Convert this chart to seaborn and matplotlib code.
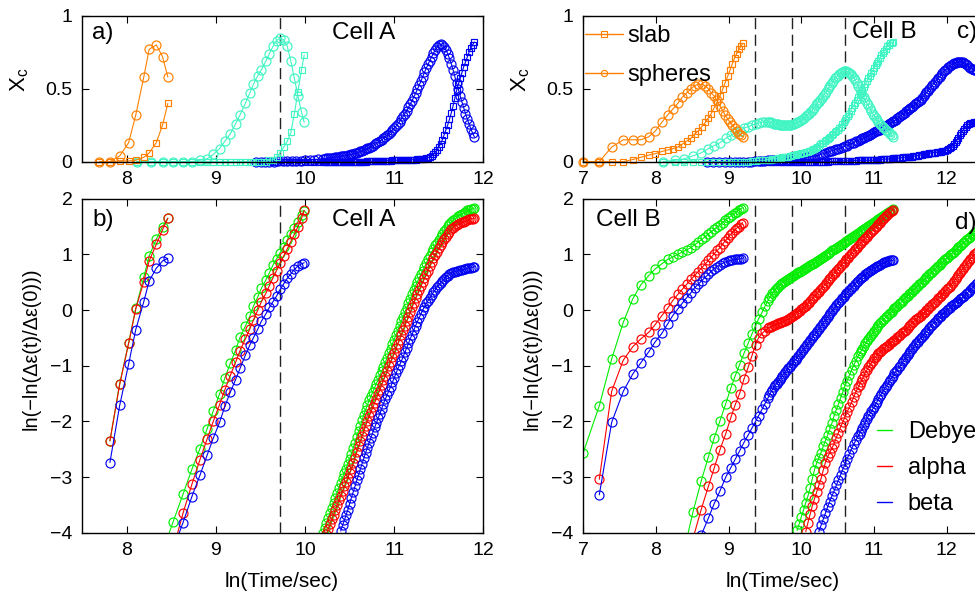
import matplotlib
matplotlib.use("Agg")
import matplotlib.pyplot as plt
import seaborn as sns
import pandas as pd
from matplotlib.lines import Line2D

# ---------------- data ----------------
# Cell A, group 1 (orange / first group)
A1_x = [7.69, 7.81, 7.92, 8.02, 8.10, 8.19, 8.25, 8.33, 8.40, 8.46]
a_orange_sph = [0.0, 0.0, 0.04, 0.13, 0.32, 0.58, 0.77, 0.80, 0.72, 0.58]
a_orange_slab = [0.0, 0.0, 0.005, 0.005, 0.01, 0.03, 0.06, 0.13, 0.25, 0.40]
b1_debye = [-2.35, -1.32, -0.59, 0.03, 0.59, 0.97, 1.27, 1.50, 1.65]
b1_alpha = [-2.35, -1.33, -0.60, 0.02, 0.51, 0.88, 1.18, 1.44, 1.65]
b1_beta = [-2.74, -1.71, -0.97, -0.35, 0.15, 0.52, 0.75, 0.88, 0.93]

# Cell A, group 2 (cyan)
A2_x = [8.11, 8.27, 8.41, 8.52, 8.63, 8.73, 8.82, 8.90, 8.97, 9.04, 9.10, 9.16, 9.22, 9.27, 9.33,
        9.38, 9.42, 9.47, 9.51, 9.56, 9.60, 9.64, 9.68, 9.72, 9.76, 9.80, 9.84, 9.88, 9.92, 9.96, 9.99]
a_cyan_sph = [0, 0, 0, 0, 0, 0, 0.01, 0.02, 0.05, 0.09, 0.14, 0.19, 0.26, 0.32, 0.40,
              0.47, 0.53, 0.59, 0.63, 0.69, 0.74, 0.79, 0.83, 0.845, 0.835, 0.79, 0.69, 0.57, 0.45, 0.34, 0.27]
a_cyan_slab = [0, 0, 0, 0, 0, 0, 0, 0, 0, 0, 0, 0, 0, 0, 0, 0, 0, 0, 0, 0,
               0.01, 0.015, 0.03, 0.06, 0.10, 0.14, 0.20, 0.33, 0.48, 0.63, 0.73]
b2_debye = [-4.30, -3.80, -3.31, -2.86, -2.49, -2.14, -1.81, -1.51, -1.22, -0.96, -0.72, -0.49, -0.29, -0.11, 0.07,
            0.24, 0.39, 0.54, 0.67, 0.81, 0.92, 1.03, 1.14, 1.26, 1.36, 1.47, 1.59, 1.70, 1.78]
b2_alpha = [-4.30, -3.65, -3.13, -2.69, -2.32, -2.00, -1.70, -1.43, -1.18, -0.94, -0.73, -0.52, -0.34, -0.18,
            0.00, 0.15, 0.30, 0.44, 0.58, 0.71, 0.84, 0.97, 1.10, 1.23, 1.36, 1.50, 1.65, 1.79]
b2_beta = [-4.30, -3.82, -3.35, -2.97, -2.61, -2.30, -2.02, -1.73, -1.48, -1.25, -1.05, -0.81, -0.63, -0.50,
           -0.34, -0.20, -0.07, 0.05, 0.15, 0.25, 0.37, 0.47, 0.57, 0.65, 0.73, 0.79, 0.83, 0.85]

# Cell A, group 3 (blue, dense sampling)
A3_x = [9.45, 9.50, 9.55, 9.60, 9.65, 9.70, 9.75, 9.80, 9.85, 9.90, 9.95, 10.00, 10.05, 10.10, 10.15, 10.20,
        10.22, 10.24, 10.26, 10.28, 10.30, 10.32, 10.34, 10.36, 10.38, 10.40,
        10.42, 10.44, 10.46, 10.48, 10.50, 10.52, 10.54, 10.56, 10.58, 10.60,
        10.62, 10.64, 10.66, 10.68, 10.70, 10.72, 10.74, 10.76, 10.78, 10.80,
        10.82, 10.84, 10.86, 10.88, 10.90, 10.92, 10.94, 10.96, 10.98, 11.00,
        11.02, 11.04, 11.06, 11.08, 11.10, 11.12, 11.14, 11.16, 11.18, 11.20,
        11.22, 11.24, 11.26, 11.28, 11.30, 11.32, 11.34, 11.36, 11.38, 11.40,
        11.42, 11.44, 11.46, 11.48, 11.50, 11.52, 11.54, 11.56, 11.58, 11.60,
        11.62, 11.64, 11.66, 11.68, 11.70, 11.72, 11.74, 11.76, 11.78, 11.80,
        11.82, 11.84, 11.86, 11.88, 11.90]
a_blue_sph = [0, 0, 0, 0, 0, 0.002, 0.003, 0.004, 0.005, 0.006, 0.008, 0.010, 0.012, 0.014, 0.016, 0.019,
              0.021, 0.022, 0.024, 0.025, 0.027, 0.028, 0.030, 0.032, 0.034, 0.036,
              0.038, 0.040, 0.042, 0.045, 0.048, 0.050, 0.054, 0.057, 0.061, 0.065,
              0.070, 0.074, 0.080, 0.085, 0.091, 0.097, 0.104, 0.110, 0.118, 0.125,
              0.132, 0.140, 0.150, 0.160, 0.170, 0.180, 0.192, 0.205, 0.218, 0.230,
              0.243, 0.258, 0.275, 0.292, 0.310, 0.330, 0.350, 0.372, 0.395, 0.418,
              0.442, 0.468, 0.495, 0.523, 0.552, 0.582, 0.612, 0.640, 0.667, 0.693,
              0.718, 0.742, 0.765, 0.784, 0.797, 0.803, 0.800, 0.788, 0.767, 0.740,
              0.708, 0.672, 0.630, 0.585, 0.538, 0.495, 0.452, 0.410, 0.370, 0.330,
              0.293, 0.258, 0.225, 0.195, 0.170]
a_blue_slab = [0, 0, 0, 0, 0, 0, 0, 0, 0, 0, 0, 0, 0, 0, 0, 0,
               0, 0, 0, 0, 0, 0, 0, 0, 0, 0,
               0, 0, 0, 0, 0, 0, 0, 0, 0, 0,
               0, 0, 0, 0, 0.002, 0.002, 0.003, 0.003, 0.004, 0.004,
               0.005, 0.005, 0.006, 0.006, 0.007, 0.007, 0.008, 0.008, 0.009, 0.009,
               0.010, 0.010, 0.010, 0.011, 0.011, 0.012, 0.012, 0.013, 0.013, 0.014,
               0.014, 0.015, 0.016, 0.017, 0.018, 0.019, 0.021, 0.024, 0.028, 0.033,
               0.040, 0.050, 0.065, 0.080, 0.100, 0.123, 0.150, 0.183, 0.217, 0.250,
               0.290, 0.333, 0.380, 0.433, 0.487, 0.530, 0.570, 0.610, 0.650, 0.683,
               0.717, 0.750, 0.777, 0.800, 0.820]
b3_debye = [-4.00,
            -3.91, -3.82, -3.73, -3.64, -3.55, -3.46, -3.37, -3.28, -3.19, -3.10,
            -3.01, -2.93, -2.85, -2.76, -2.67, -2.58, -2.48, -2.38, -2.28, -2.18,
            -2.08, -1.98, -1.88, -1.79, -1.70, -1.62, -1.55, -1.47, -1.40, -1.32,
            -1.25, -1.17, -1.10, -1.02, -0.94, -0.86, -0.78, -0.70, -0.61, -0.53,
            -0.45, -0.37, -0.28, -0.20, -0.12, -0.04, 0.04, 0.12, 0.20, 0.28,
            0.36, 0.44, 0.51, 0.57, 0.64, 0.71, 0.77, 0.84, 0.91, 0.97,
            1.04, 1.10, 1.16, 1.21, 1.26, 1.32, 1.37, 1.42, 1.46, 1.51,
            1.54, 1.58, 1.61, 1.64, 1.66, 1.69, 1.71, 1.73, 1.75, 1.77,
            1.79, 1.80, 1.81, 1.82, 1.83]
b3_alpha = [-4.02, -3.93, -3.85, -3.76, -3.68, -3.59, -3.51, -3.42, -3.34, -3.25,
            -3.17, -3.09, -3.01, -2.93, -2.85, -2.75, -2.65, -2.55, -2.45, -2.35,
            -2.26, -2.17, -2.08, -1.99, -1.91, -1.83, -1.75, -1.67, -1.59, -1.51,
            -1.43, -1.34, -1.26, -1.18, -1.10, -1.01, -0.93, -0.85, -0.77, -0.69,
            -0.61, -0.53, -0.44, -0.36, -0.28, -0.20, -0.12, -0.04, 0.05, 0.13,
            0.21, 0.28, 0.36, 0.43, 0.50, 0.57, 0.64, 0.71, 0.79, 0.86,
            0.93, 0.99, 1.05, 1.11, 1.17, 1.22, 1.27, 1.32, 1.37, 1.41,
            1.45, 1.48, 1.51, 1.53, 1.55, 1.56, 1.58, 1.59, 1.60, 1.61,
            1.63, 1.64, 1.64, 1.65]
b3_beta = [-3.97, -3.87, -3.78, -3.68, -3.59, -3.48, -3.37, -3.27, -3.17, -3.06,
           -2.96, -2.86, -2.76, -2.66, -2.56, -2.47, -2.38, -2.29, -2.20, -2.11,
           -2.03, -1.94, -1.86, -1.77, -1.68, -1.60, -1.53, -1.45, -1.38, -1.30,
           -1.22, -1.14, -1.06, -0.99, -0.92, -0.84, -0.76, -0.68, -0.60, -0.52,
           -0.44, -0.36, -0.28, -0.21, -0.14, -0.07, 0.00, 0.06, 0.12, 0.17,
           0.22, 0.27, 0.32, 0.36, 0.41, 0.45, 0.49, 0.53, 0.56, 0.59,
           0.62, 0.64, 0.66, 0.68, 0.69, 0.70, 0.71, 0.72, 0.72, 0.73,
           0.74, 0.75, 0.76, 0.76, 0.77, 0.78]

# Cell B, group 1 (orange)
B1_x = [7.00, 7.22, 7.39, 7.55, 7.68, 7.79, 7.90, 7.99, 8.08, 8.16, 8.23, 8.30, 8.36, 8.42, 8.48, 8.53, 8.58,
        8.63, 8.68, 8.72, 8.76, 8.80, 8.84, 8.88, 8.92, 8.95, 8.99, 9.02, 9.05, 9.08, 9.11, 9.14, 9.17, 9.19]
c_orange_sph = [0.00, 0.00, 0.10, 0.15, 0.15, 0.15, 0.17, 0.21, 0.27, 0.32, 0.36, 0.40, 0.44, 0.47, 0.50, 0.52,
                0.53, 0.53, 0.52, 0.50, 0.47, 0.45, 0.42, 0.38, 0.35, 0.32, 0.29, 0.27, 0.25, 0.23, 0.21, 0.19,
                0.18, 0.17]
c_orange_slab = [0.00, 0.00, 0.00, 0.00, 0.015, 0.03, 0.045, 0.055, 0.07, 0.08, 0.09, 0.10, 0.12, 0.14, 0.16,
                 0.19, 0.21, 0.24, 0.27, 0.30, 0.33, 0.37, 0.41, 0.45, 0.50, 0.54, 0.59, 0.63, 0.67, 0.71, 0.74,
                 0.77, 0.79, 0.81]
d1_debye = [-2.56, -1.72, -0.88, -0.22, 0.20, 0.45, 0.62, 0.74, 0.83, 0.91, 0.95, 1.00, 1.04, 1.08, 1.12, 1.17,
            1.22, 1.27, 1.32, 1.37, 1.41, 1.45, 1.49, 1.53, 1.57, 1.61, 1.65, 1.68, 1.71, 1.74, 1.77, 1.80,
            1.82, 1.84]
d1_alpha = [-3.04, -1.46, -0.90, -0.66, -0.52, -0.40, -0.26, -0.10, 0.03, 0.17, 0.28, 0.37, 0.46, 0.55, 0.62,
            0.69, 0.76, 0.83, 0.89, 0.95, 1.01, 1.07, 1.12, 1.19, 1.24, 1.30, 1.35, 1.39, 1.43, 1.47, 1.50,
            1.54, 1.57]
d1_beta = [-3.32, -2.02, -1.46, -1.15, -0.95, -0.75, -0.57, -0.42, -0.25, -0.10, 0.02, 0.12, 0.22, 0.31, 0.40,
           0.46, 0.53, 0.59, 0.64, 0.70, 0.74, 0.78, 0.81, 0.84, 0.86, 0.88, 0.89, 0.90, 0.91, 0.91, 0.92,
           0.92, 0.93]

# Cell B, group 2 (cyan)
B2_x = [8.10, 8.26, 8.39, 8.51, 8.62, 8.72, 8.80, 8.88, 8.96, 9.03, 9.09, 9.15, 9.21, 9.27, 9.32, 9.37, 9.41,
        9.46, 9.50, 9.54,
        9.56, 9.58, 9.60, 9.62, 9.64, 9.66, 9.68, 9.70, 9.72, 9.74,
        9.76, 9.78, 9.80, 9.82, 9.84, 9.86, 9.88, 9.90, 9.92, 9.94,
        9.96, 9.98, 10.00, 10.02, 10.04, 10.06, 10.08, 10.10, 10.12, 10.14,
        10.16, 10.18, 10.20, 10.22, 10.24, 10.26, 10.28, 10.30, 10.32, 10.34,
        10.36, 10.38, 10.40, 10.42, 10.44, 10.46, 10.48, 10.50, 10.52, 10.54,
        10.56, 10.58, 10.60, 10.62, 10.64, 10.66, 10.68, 10.70, 10.72, 10.74,
        10.76, 10.78, 10.80, 10.82, 10.84, 10.86, 10.88, 10.90, 10.92, 10.94,
        10.96, 10.98, 11.00, 11.02, 11.04, 11.06, 11.08, 11.10, 11.12, 11.14,
        11.16, 11.18, 11.20, 11.22, 11.24, 11.26]
c_cyan_sph = [0.00, 0.01, 0.02, 0.04, 0.06, 0.09, 0.11, 0.13, 0.16, 0.18, 0.20, 0.21, 0.23, 0.24, 0.25, 0.26,
              0.265, 0.27, 0.27, 0.27,
              0.27, 0.27, 0.265, 0.26, 0.26, 0.26, 0.255, 0.25, 0.25, 0.25,
              0.25, 0.25, 0.25, 0.25, 0.25, 0.25, 0.255, 0.26, 0.265, 0.27,
              0.275, 0.28, 0.285, 0.29, 0.30, 0.31, 0.32, 0.33, 0.34, 0.35,
              0.36, 0.37, 0.385, 0.40, 0.41, 0.42, 0.435, 0.45, 0.465, 0.48,
              0.495, 0.51, 0.525, 0.54, 0.555, 0.57, 0.58, 0.59, 0.60, 0.61,
              0.615, 0.62, 0.62, 0.62, 0.615, 0.61, 0.60, 0.59, 0.575, 0.56,
              0.54, 0.52, 0.50, 0.48, 0.46, 0.44, 0.42, 0.40, 0.385, 0.37,
              0.35, 0.33, 0.315, 0.30, 0.285, 0.27, 0.26, 0.25, 0.24, 0.23,
              0.22, 0.21, 0.20, 0.19, 0.18, 0.17]
c_cyan_slab = [0, 0, 0, 0, 0, 0, 0, 0, 0, 0, 0, 0, 0, 0, 0.005, 0.005, 0.01, 0.01, 0.01, 0.015,
               0.015, 0.015, 0.018, 0.02, 0.02, 0.02, 0.023, 0.025, 0.028, 0.03,
               0.03, 0.03, 0.033, 0.035, 0.038, 0.04, 0.043, 0.045, 0.048, 0.05,
               0.053, 0.055, 0.058, 0.06, 0.063, 0.065, 0.068, 0.07, 0.075, 0.08,
               0.085, 0.09, 0.095, 0.10, 0.11, 0.12, 0.125, 0.13, 0.14, 0.15,
               0.155, 0.16, 0.17, 0.18, 0.19, 0.20, 0.21, 0.22, 0.23, 0.24,
               0.255, 0.27, 0.285, 0.30, 0.315, 0.33, 0.35, 0.37, 0.385, 0.40,
               0.42, 0.44, 0.455, 0.47, 0.49, 0.51, 0.53, 0.55, 0.57, 0.59,
               0.605, 0.62, 0.64, 0.66, 0.675, 0.69, 0.71, 0.73, 0.745, 0.76,
               0.775, 0.79, 0.80, 0.81, 0.815, 0.82]
d2_debye = [-4.30, -3.62, -3.08, -2.64, -2.30, -1.99, -1.68, -1.40, -1.18, -0.98, -0.78, -0.59, -0.43, -0.28,
            -0.16, -0.04, 0.07, 0.17,
            0.22, 0.26, 0.30, 0.33, 0.36, 0.39, 0.42, 0.45, 0.47, 0.49,
            0.51, 0.53, 0.545, 0.56, 0.575, 0.59, 0.61, 0.63, 0.645, 0.66,
            0.675, 0.69, 0.705, 0.72, 0.74, 0.76, 0.775, 0.79, 0.805, 0.82,
            0.835, 0.85, 0.865, 0.88, 0.90, 0.92, 0.94, 0.96, 0.975, 0.99,
            1.01, 1.03, 1.05, 1.07, 1.085, 1.10, 1.12, 1.14, 1.155, 1.17,
            1.19, 1.21, 1.225, 1.24, 1.26, 1.28, 1.295, 1.31, 1.33, 1.35,
            1.37, 1.39, 1.405, 1.42, 1.44, 1.46, 1.48, 1.50, 1.515, 1.53,
            1.55, 1.57, 1.585, 1.60, 1.62, 1.64, 1.655, 1.67, 1.69, 1.71,
            1.725, 1.74, 1.76, 1.78, 1.795, 1.81]
d2_alpha = [-4.10, -3.59, -3.17, -2.84, -2.51, -2.22, -1.93, -1.70, -1.50, -1.24, -1.02, -0.82, -0.62, -0.50,
            -0.42, -0.37, -0.33,
            -0.31, -0.30, -0.285, -0.27, -0.26, -0.25, -0.24, -0.23, -0.22, -0.21,
            -0.20, -0.19, -0.175, -0.16, -0.145, -0.13, -0.11, -0.09, -0.07, -0.05,
            -0.03, -0.01, 0.01, 0.03, 0.055, 0.08, 0.105, 0.13, 0.16, 0.19,
            0.22, 0.25, 0.275, 0.30, 0.33, 0.36, 0.39, 0.42, 0.45, 0.48,
            0.515, 0.55, 0.58, 0.61, 0.64, 0.67, 0.70, 0.73, 0.76, 0.79,
            0.82, 0.85, 0.88, 0.91, 0.94, 0.97, 1.00, 1.03, 1.06, 1.09,
            1.12, 1.15, 1.18, 1.21, 1.235, 1.26, 1.29, 1.32, 1.35, 1.38,
            1.405, 1.43, 1.46, 1.49, 1.515, 1.54, 1.57, 1.60, 1.63, 1.66,
            1.685, 1.71, 1.735, 1.76, 1.78, 1.80]
d2_beta = [-4.05, -3.74, -3.48, -3.25, -3.00, -2.83, -2.68, -2.53, -2.38, -2.24, -2.12, -2.00, -1.90, -1.78,
           -1.68, -1.58,
           -1.53, -1.48, -1.43, -1.39, -1.355, -1.32, -1.285, -1.25, -1.215, -1.18,
           -1.145, -1.11, -1.08, -1.05, -1.02, -0.99, -0.955, -0.92, -0.89, -0.86,
           -0.825, -0.79, -0.755, -0.72, -0.685, -0.65, -0.615, -0.58, -0.545, -0.51,
           -0.475, -0.44, -0.405, -0.37, -0.335, -0.30, -0.265, -0.23, -0.195, -0.16,
           -0.125, -0.09, -0.055, -0.02, 0.015, 0.05, 0.085, 0.12, 0.15, 0.18,
           0.21, 0.24, 0.27, 0.30, 0.33, 0.36, 0.385, 0.41, 0.44, 0.47,
           0.50, 0.53, 0.555, 0.58, 0.60, 0.62, 0.64, 0.66, 0.68, 0.70,
           0.72, 0.74, 0.755, 0.77, 0.785, 0.80, 0.815, 0.83, 0.845, 0.86,
           0.87, 0.88, 0.885, 0.89, 0.89, 0.89]

# Cell B, group 3 (blue, dense sampling)
B3_x = [8.70, 8.79, 8.87, 8.95, 9.02, 9.08, 9.14, 9.20, 9.26, 9.31, 9.36, 9.41, 9.45, 9.49, 9.54, 9.58, 9.61,
        9.65, 9.69, 9.72, 9.75, 9.79, 9.82, 9.85, 9.88, 9.91,
        9.94, 9.97, 10.00, 10.03, 10.06, 10.09, 10.12, 10.15, 10.18, 10.21, 10.24, 10.27, 10.30, 10.33,
        10.36, 10.39, 10.42, 10.45, 10.48, 10.51, 10.54, 10.57, 10.60, 10.63, 10.66, 10.69, 10.72, 10.75, 10.78,
        10.80, 10.82, 10.84, 10.86, 10.88, 10.90, 10.92, 10.94, 10.96, 10.98,
        11.00, 11.02, 11.04, 11.06, 11.08, 11.10, 11.12, 11.14, 11.16, 11.18,
        11.20, 11.22, 11.24, 11.26, 11.28, 11.30, 11.32, 11.34, 11.36, 11.38,
        11.40, 11.42, 11.44, 11.46, 11.48, 11.50, 11.52, 11.54, 11.56, 11.58,
        11.60, 11.62, 11.64, 11.66, 11.68, 11.70, 11.72, 11.74, 11.76, 11.78,
        11.80, 11.82, 11.84, 11.86, 11.88, 11.90, 11.92, 11.94, 11.96, 11.98,
        12.00, 12.02, 12.04, 12.06, 12.08, 12.10, 12.12, 12.14, 12.16, 12.18,
        12.20, 12.22, 12.24, 12.26, 12.28, 12.30, 12.32, 12.34, 12.36, 12.38,
        12.40, 12.42]
c_blue_sph = [0, 0, 0, 0, 0, 0, 0, 0, 0, 0, 0.005, 0.005, 0.005, 0.005, 0.01, 0.01, 0.01, 0.01, 0.01, 0.01,
              0.015, 0.015, 0.015, 0.015, 0.02, 0.02,
              0.02, 0.02, 0.025, 0.025, 0.03, 0.03, 0.035, 0.035, 0.04, 0.04, 0.045, 0.05, 0.055, 0.06, 0.065,
              0.07, 0.075, 0.08, 0.085, 0.09, 0.095, 0.10, 0.105, 0.11, 0.12, 0.125, 0.13, 0.14, 0.145,
              0.150, 0.155, 0.160, 0.165, 0.170, 0.174, 0.178, 0.183, 0.190, 0.197,
              0.203, 0.208, 0.212, 0.216, 0.220, 0.228, 0.236, 0.242, 0.246, 0.250,
              0.258, 0.266, 0.272, 0.276, 0.280, 0.288, 0.296, 0.304, 0.312, 0.320,
              0.328, 0.336, 0.344, 0.352, 0.360, 0.368, 0.376, 0.384, 0.392, 0.400,
              0.408, 0.416, 0.426, 0.438, 0.450, 0.462, 0.474, 0.486, 0.498, 0.510,
              0.522, 0.534, 0.546, 0.558, 0.570, 0.582, 0.594, 0.606, 0.618, 0.630,
              0.638, 0.646, 0.654, 0.662, 0.670, 0.674, 0.678, 0.681, 0.683, 0.685,
              0.684, 0.682, 0.677, 0.670, 0.660, 0.652, 0.644, 0.638, 0.634, 0.630,
              0.626, 0.622]
c_blue_slab = [0, 0, 0, 0, 0, 0, 0, 0, 0, 0, 0, 0, 0, 0, 0, 0, 0, 0, 0, 0, 0, 0, 0, 0, 0, 0,
               0, 0, 0, 0, 0, 0, 0, 0, 0, 0, 0, 0, 0, 0, 0, 0.002, 0.002, 0.003, 0.003, 0.004, 0.004, 0.005,
               0.005, 0.006, 0.006, 0.007, 0.008, 0.008, 0.009,
               0.010, 0.010, 0.010, 0.010, 0.010, 0.010, 0.010, 0.010, 0.010, 0.010,
               0.011, 0.012, 0.013, 0.014, 0.015, 0.016, 0.017, 0.017, 0.018, 0.018,
               0.019, 0.020, 0.021, 0.022, 0.022, 0.023, 0.024, 0.025, 0.026, 0.028,
               0.029, 0.030, 0.031, 0.032, 0.033, 0.034, 0.035, 0.036, 0.038, 0.040,
               0.042, 0.044, 0.046, 0.048, 0.050, 0.052, 0.054, 0.056, 0.058, 0.060,
               0.061, 0.062, 0.063, 0.064, 0.066, 0.067, 0.068, 0.070, 0.072, 0.075,
               0.080, 0.086, 0.094, 0.102, 0.110, 0.122, 0.134, 0.148, 0.164, 0.180,
               0.196, 0.212, 0.226, 0.238, 0.250, 0.256, 0.262, 0.266, 0.268, 0.270,
               0.272, 0.274]
d3_debye = [-3.96, -3.84, -3.71, -3.59, -3.46, -3.34, -3.20, -3.03, -2.87, -2.75, -2.66, -2.56, -2.45, -2.35,
            -2.25, -2.14, -2.03, -1.90, -1.79, -1.69, -1.58, -1.47, -1.36, -1.27, -1.17, -1.08, -0.99, -0.91,
            -0.83,
            -0.78, -0.74, -0.70, -0.65, -0.60, -0.56, -0.52, -0.48, -0.45, -0.41,
            -0.37, -0.34, -0.30, -0.27, -0.24, -0.21, -0.18, -0.16, -0.13, -0.10,
            -0.08, -0.05, -0.03, 0.00, 0.03, 0.05, 0.08, 0.10, 0.13, 0.15,
            0.18, 0.21, 0.23, 0.26, 0.28, 0.30, 0.33, 0.36, 0.38, 0.41,
            0.43, 0.46, 0.48, 0.51, 0.54, 0.56, 0.59, 0.61, 0.64, 0.66,
            0.69, 0.72, 0.74, 0.77, 0.79, 0.81, 0.84, 0.86, 0.89, 0.91,
            0.93, 0.96, 0.98, 1.01, 1.03, 1.05, 1.08, 1.10, 1.13, 1.15,
            1.17, 1.20, 1.22, 1.25, 1.27, 1.29, 1.32, 1.34, 1.36, 1.38,
            1.40, 1.42]
d3_alpha = [-3.98, -3.82, -3.67, -3.52, -3.39, -3.27, -3.15, -3.03, -2.88, -2.74, -2.64, -2.56, -2.48, -2.40,
            -2.29, -2.20, -2.10, -2.01, -1.92, -1.83, -1.74, -1.66, -1.56, -1.47, -1.39,
            -1.34, -1.29, -1.23, -1.18, -1.12, -1.08, -1.03, -0.99, -0.95, -0.91,
            -0.87, -0.84, -0.81, -0.78, -0.75, -0.73, -0.70, -0.68, -0.66, -0.64,
            -0.62, -0.60, -0.58, -0.56, -0.54, -0.52, -0.49, -0.47, -0.44, -0.42,
            -0.40, -0.37, -0.35, -0.32, -0.29, -0.26, -0.23, -0.21, -0.18, -0.16,
            -0.14, -0.12, -0.10, -0.08, -0.06, -0.03, 0.00, 0.02, 0.05, 0.08,
            0.10, 0.13, 0.15, 0.18, 0.21, 0.23, 0.26, 0.28, 0.31, 0.34,
            0.37, 0.40, 0.42, 0.45, 0.49, 0.52, 0.56, 0.60, 0.63, 0.67,
            0.71, 0.74, 0.78, 0.81, 0.85, 0.88, 0.91, 0.94, 0.97, 1.00,
            1.02, 1.04]
d3_beta = [-3.98, -3.87, -3.76, -3.65, -3.54, -3.44, -3.34, -3.25, -3.15, -3.05, -2.96, -2.86, -2.77, -2.67,
           -2.58, -2.49, -2.41, -2.34, -2.27,
           -2.22, -2.17, -2.12, -2.07, -2.01, -1.96, -1.91, -1.87, -1.82, -1.78,
           -1.74, -1.69, -1.65, -1.60, -1.55, -1.51, -1.46, -1.42, -1.38, -1.34,
           -1.30, -1.26, -1.22, -1.18, -1.14, -1.10, -1.07, -1.03, -1.00, -0.96,
           -0.92, -0.88, -0.84, -0.81, -0.77, -0.74, -0.70, -0.67, -0.63, -0.60,
           -0.57, -0.54, -0.51, -0.48, -0.45, -0.42, -0.39, -0.35, -0.32, -0.29,
           -0.26, -0.23, -0.21, -0.18, -0.15, -0.13, -0.10, -0.08, -0.05, -0.03,
           0.00, 0.02, 0.04, 0.07, 0.09, 0.11, 0.13, 0.15, 0.17, 0.19,
           0.21, 0.23, 0.26, 0.28, 0.31, 0.33, 0.36, 0.39, 0.41, 0.44,
           0.46, 0.48]

cellA_marks = [9.72]
cellB_marks = [9.36, 9.87, 10.60]
x_ticks_A = [8, 9, 10, 11, 12]
x_ticks_B = [7, 8, 9, 10, 11, 12]
xc_ticks = [0, 0.5, 1]
xc_tick_labels = ["0", "0.5", "1"]
ln_ticks = [-4, -3, -2, -1, 0, 1, 2]
legend_top = ["slab", "spheres"]
legend_bottom = ["Debye", "alpha", "beta"]

# ---------------- style ----------------
sns.set_theme(style="ticks")
plt.rcParams["font.family"] = ["Liberation Sans", "DejaVu Sans"]
plt.rcParams.update({
    "text.color": "black", "axes.labelcolor": "black",
    "xtick.color": "black", "ytick.color": "black",
    "axes.edgecolor": "black",
})

ORANGE = "#FF8000"
CYAN = "#40F5C3"
BLUE = "#0000F2"
GREEN = "#00EE00"
RED = "#FF0000"
DASH = "#222222"

W, H = 975, 595
fig = plt.figure(figsize=(W / 100, H / 100), dpi=100)


def px_axes(left, top, right, bottom):
    return fig.add_axes([left / W, 1 - bottom / H, (right - left) / W, (bottom - top) / H])


ax_a = px_axes(82.3, 15.7, 483.3, 161.7)
ax_b = px_axes(82.3, 198.7, 483.3, 532.7)
ax_c = px_axes(583.3, 15.7, 583.3 + 6 * 72.7, 161.7)
ax_d = px_axes(583.3, 198.7, 583.3 + 6 * 72.7, 532.7)


def series(ax, xs, ys, color, marker, clip=True, lw=0.8):
    xs = xs[-len(ys):]
    df = pd.DataFrame({"t": xs, "v": ys})
    ms = 6.5 if marker == "o" else 5.0
    sns.lineplot(data=df, x="t", y="v", ax=ax, color=color, marker=marker, markersize=ms,
                 markerfacecolor="none", markeredgecolor=color, markeredgewidth=0.85,
                 linewidth=lw, estimator=None, sort=False, legend=False, clip_on=clip)


# dashed reference lines
for ax, marks in ((ax_a, cellA_marks), (ax_b, cellA_marks), (ax_c, cellB_marks), (ax_d, cellB_marks)):
    for m in marks:
        ax.axvline(m, color=DASH, lw=1.0, ls=(0, (8, 4)), zorder=0.5)

# panel a
series(ax_a, A3_x, a_blue_slab, BLUE, "s", clip=False)
series(ax_a, A3_x, a_blue_sph, BLUE, "o", clip=False)
series(ax_a, A2_x, a_cyan_slab, CYAN, "s", clip=False)
series(ax_a, A2_x, a_cyan_sph, CYAN, "o", clip=False)
series(ax_a, A1_x, a_orange_slab, ORANGE, "s", clip=False)
series(ax_a, A1_x, a_orange_sph, ORANGE, "o", clip=False)

# panel c
series(ax_c, B3_x, c_blue_slab, BLUE, "s", clip=False)
series(ax_c, B3_x, c_blue_sph, BLUE, "o", clip=False)
series(ax_c, B2_x, c_cyan_slab, CYAN, "s", clip=False)
series(ax_c, B2_x, c_cyan_sph, CYAN, "o", clip=False)
series(ax_c, B1_x, c_orange_slab, ORANGE, "s", clip=False)
series(ax_c, B1_x, c_orange_sph, ORANGE, "o", clip=False)

# panel b
for xs, trio in ((A1_x, (b1_debye, b1_alpha, b1_beta)),
                 (A2_x, (b2_debye, b2_alpha, b2_beta)),
                 (A3_x, (b3_debye, b3_alpha, b3_beta))):
    for ys, col in zip(trio, (GREEN, RED, BLUE)):
        series(ax_b, xs, ys, col, "o")

# panel d
for xs, trio in ((B1_x, (d1_debye, d1_alpha, d1_beta)),
                 (B2_x, (d2_debye, d2_alpha, d2_beta)),
                 (B3_x, (d3_debye, d3_alpha, d3_beta))):
    for ys, col in zip(trio, (GREEN, RED, BLUE)):
        series(ax_d, xs, ys, col, "o")

# axes formatting
for ax in (ax_a, ax_b, ax_c, ax_d):
    ax.tick_params(direction="in", top=True, right=True, length=5, width=0.8,
                   labelsize=14, pad=7)
    for sp in ax.spines.values():
        sp.set_color("black")
        sp.set_linewidth(1.0)
    ax.set_xlabel("")
    ax.set_ylabel("")

for ax in (ax_a, ax_b):
    ax.set_xlim(7.5, 12)
    ax.set_xticks(x_ticks_A)
for ax in (ax_c, ax_d):
    ax.set_xlim(7, 13)
    ax.set_xticks(x_ticks_B)
for ax in (ax_a, ax_c):
    ax.set_ylim(0, 1)
    ax.set_yticks(xc_ticks)
    ax.set_yticklabels(xc_tick_labels)
    ax.set_ylabel(r"$\mathregular{X_c}$", fontsize=16)
for ax in (ax_b, ax_d):
    ax.set_ylim(-4, 2)
    ax.set_yticks(ln_ticks)
    ax.set_ylabel("ln(\u2212ln(\u0394\u03b5(t)/\u0394\u03b5(0)))", fontsize=14.3)
    ax.set_xlabel("ln(Time/sec)", fontsize=15)

ax_a.yaxis.set_label_coords(-0.128, 0.56)
ax_c.yaxis.set_label_coords(-0.118, 0.56)
ax_b.yaxis.set_label_coords(-0.105, 0.55)
ax_d.yaxis.set_label_coords(-0.095, 0.55)
ax_b.xaxis.set_label_coords(0.497, -0.118)
ax_d.xaxis.set_label_coords(0.457, -0.118)

# panel annotations
TXT = 17.5
ax_a.text(7.61, 0.88, "a)", fontsize=TXT, va="center", ha="left")
ax_a.text(10.30, 0.88, "Cell A", fontsize=TXT, va="center", ha="left")
ax_b.text(7.61, 1.62, "b)", fontsize=TXT, va="center", ha="left")
ax_b.text(10.30, 1.62, "Cell A", fontsize=TXT, va="center", ha="left")
ax_c.text(10.69, 0.89, "Cell B", fontsize=TXT, va="center", ha="left")
ax_c.text(12.14, 0.89, "c)", fontsize=TXT, va="center", ha="left")
ax_d.text(7.18, 1.62, "Cell B", fontsize=TXT, va="center", ha="left")
ax_d.text(12.11, 1.56, "d)", fontsize=TXT, va="center", ha="left")

# legends
h_top = [Line2D([], [], color=ORANGE, lw=1.0, marker=m, ms=4.5, mfc="none", mec=ORANGE, mew=0.8)
         for m in ("s", "o")]
ax_c.legend(h_top, legend_top, loc="upper left", bbox_to_anchor=(585 / W, 1 - 25 / H),
            bbox_transform=fig.transFigure, frameon=False, fontsize=17, handlelength=1.6,
            handletextpad=0.2, labelspacing=0.72, borderaxespad=0, borderpad=0, numpoints=1)
h_bot = [Line2D([], [], color=c, lw=1.0) for c in (GREEN, RED, BLUE)]
ax_d.legend(h_bot, legend_bottom, loc="upper left", bbox_to_anchor=(877 / W, 1 - 421 / H),
            bbox_transform=fig.transFigure, frameon=False, fontsize=17, handlelength=0.65,
            handletextpad=0.65, labelspacing=0.6, borderaxespad=0, borderpad=0)

fig.savefig("out.png", dpi=100)
